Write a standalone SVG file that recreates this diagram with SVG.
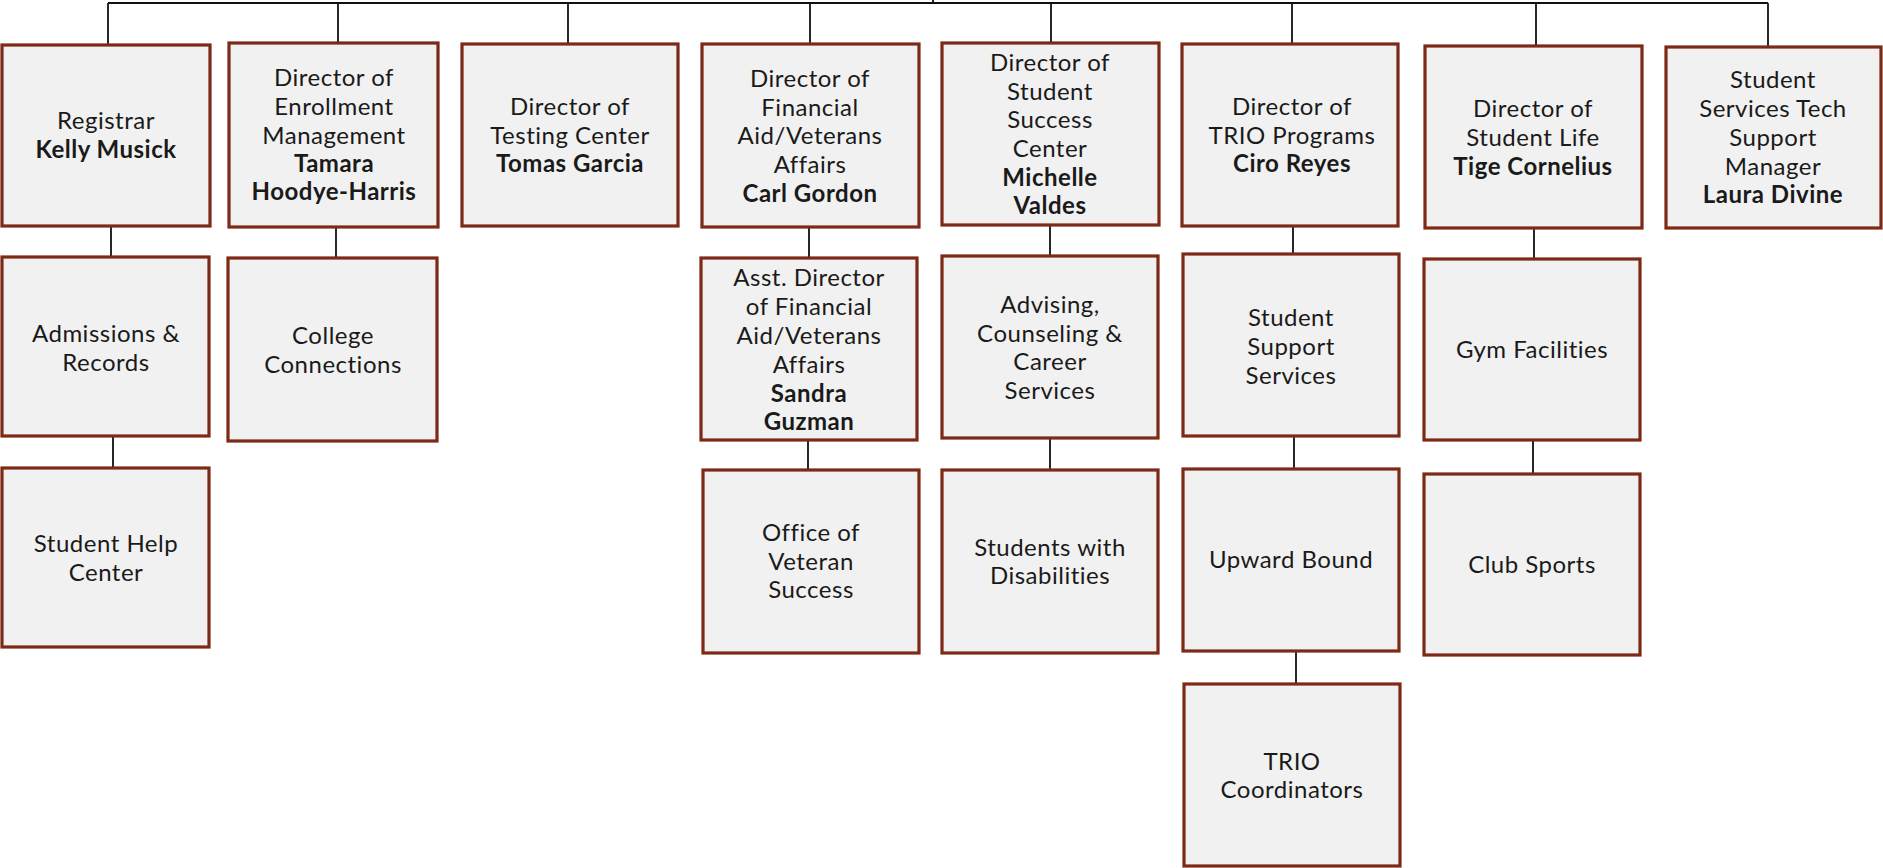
<svg xmlns="http://www.w3.org/2000/svg" width="1883" height="868" viewBox="0 0 1883 868">
<style>
.box{fill:#f1f1f1;stroke:#7e2816;stroke-width:3.2}
.t{font-family:Lato,"Open Sans","DejaVu Sans",sans-serif;font-size:24px;letter-spacing:0.5px;fill:#1a1a1a;text-anchor:middle}
.b{font-weight:bold}
.c{stroke:#111;stroke-width:1.8;fill:none}
</style>
<rect width="1883" height="868" fill="#fff"/>
<g id="connectors">
<path class="c" d="M933 0V3M108 3H1768M108 3V45M338 3V43M568 3V44M810 3V44M1051 3V43M1292 3V44M1536 3V46M1768 3V47"/>
<path class="c" d="M111 226V257M113 436V468"/>
<path class="c" d="M336 227V258"/>
<path class="c" d="M809 227V258M808 440V470"/>
<path class="c" d="M1050 225V256M1050 438V470"/>
<path class="c" d="M1293 226V254M1294 436V469M1296 651V684"/>
<path class="c" d="M1534 228V259M1533 440V474"/>
</g>
<g id="registrar"><rect class="box" x="2" y="45" width="208" height="181"/>
<text class="t" x="106" y="129">Registrar</text><text class="t b" x="106" y="158">Kelly Musick</text></g>
<g id="admissions"><rect class="box" x="2" y="257" width="207" height="179"/>
<text class="t" x="106" y="342">Admissions &amp;</text><text class="t" x="106" y="371">Records</text></g>
<g id="helpcenter"><rect class="box" x="2" y="468" width="207" height="179"/>
<text class="t" x="106" y="552">Student Help</text><text class="t" x="106" y="581">Center</text></g>
<g id="enrollment"><rect class="box" x="229" y="43" width="209" height="184"/>
<text class="t" x="334" y="86">Director of</text><text class="t" x="334" y="115">Enrollment</text><text class="t" x="334" y="144">Management</text><text class="t b" x="334" y="172">Tamara</text><text class="t b" x="334" y="200">Hoodye-Harris</text></g>
<g id="college"><rect class="box" x="228" y="258" width="209" height="183"/>
<text class="t" x="333" y="344">College</text><text class="t" x="333" y="373">Connections</text></g>
<g id="testing"><rect class="box" x="462" y="44" width="216" height="182"/>
<text class="t" x="570" y="115">Director of</text><text class="t" x="570" y="144">Testing Center</text><text class="t b" x="570" y="172">Tomas Garcia</text></g>
<g id="financial"><rect class="box" x="702" y="44" width="217" height="183"/>
<text class="t" x="810" y="87">Director of</text><text class="t" x="810" y="116">Financial</text><text class="t" x="810" y="144">Aid/Veterans</text><text class="t" x="810" y="173">Affairs</text><text class="t b" x="810" y="202">Carl Gordon</text></g>
<g id="asstfinancial"><rect class="box" x="701" y="258" width="216" height="182"/>
<text class="t" x="809" y="286">Asst. Director</text><text class="t" x="809" y="315">of Financial</text><text class="t" x="809" y="344">Aid/Veterans</text><text class="t" x="809" y="373">Affairs</text><text class="t b" x="809" y="402">Sandra</text><text class="t b" x="809" y="430">Guzman</text></g>
<g id="veteran"><rect class="box" x="703" y="470" width="216" height="183"/>
<text class="t" x="811" y="541">Office of</text><text class="t" x="811" y="570">Veteran</text><text class="t" x="811" y="598">Success</text></g>
<g id="success"><rect class="box" x="942" y="43" width="217" height="182"/>
<text class="t" x="1050" y="71">Director of</text><text class="t" x="1050" y="100">Student</text><text class="t" x="1050" y="128">Success</text><text class="t" x="1050" y="157">Center</text><text class="t b" x="1050" y="186">Michelle</text><text class="t b" x="1050" y="214">Valdes</text></g>
<g id="advising"><rect class="box" x="942" y="256" width="216" height="182"/>
<text class="t" x="1050" y="313">Advising,</text><text class="t" x="1050" y="342">Counseling &amp;</text><text class="t" x="1050" y="370">Career</text><text class="t" x="1050" y="399">Services</text></g>
<g id="disabilities"><rect class="box" x="942" y="470" width="216" height="183"/>
<text class="t" x="1050" y="556">Students with</text><text class="t" x="1050" y="584">Disabilities</text></g>
<g id="trio"><rect class="box" x="1182" y="44" width="216" height="182"/>
<text class="t" x="1292" y="115">Director of</text><text class="t" x="1292" y="144">TRIO Programs</text><text class="t b" x="1292" y="172">Ciro Reyes</text></g>
<g id="supportservices"><rect class="box" x="1183" y="254" width="216" height="182"/>
<text class="t" x="1291" y="326">Student</text><text class="t" x="1291" y="355">Support</text><text class="t" x="1291" y="384">Services</text></g>
<g id="upward"><rect class="box" x="1183" y="469" width="216" height="182"/>
<text class="t" x="1291" y="568">Upward Bound</text></g>
<g id="triocoord"><rect class="box" x="1184" y="684" width="216" height="182"/>
<text class="t" x="1292" y="770">TRIO</text><text class="t" x="1292" y="798">Coordinators</text></g>
<g id="studentlife"><rect class="box" x="1425" y="46" width="217" height="182"/>
<text class="t" x="1533" y="117">Director of</text><text class="t" x="1533" y="146">Student Life</text><text class="t b" x="1533" y="175">Tige Cornelius</text></g>
<g id="gym"><rect class="box" x="1424" y="259" width="216" height="181"/>
<text class="t" x="1532" y="358">Gym Facilities</text></g>
<g id="clubsports"><rect class="box" x="1424" y="474" width="216" height="181"/>
<text class="t" x="1532" y="573">Club Sports</text></g>
<g id="techsupport"><rect class="box" x="1666" y="47" width="215" height="181"/>
<text class="t" x="1773" y="88">Student</text><text class="t" x="1773" y="117">Services Tech</text><text class="t" x="1773" y="146">Support</text><text class="t" x="1773" y="175">Manager</text><text class="t b" x="1773" y="203">Laura Divine</text></g>
</svg>
